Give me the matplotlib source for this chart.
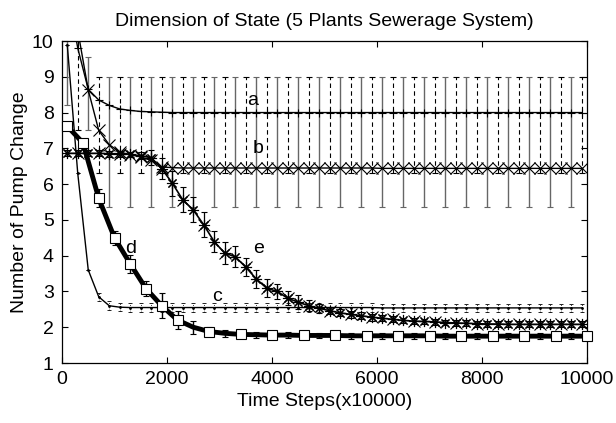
import numpy as np
import matplotlib; matplotlib.use("Agg"); import matplotlib.pyplot as plt

plt.rcParams["font.family"] = ["Liberation Sans", "DejaVu Sans"]
plt.rcParams["font.size"] = 14

# time steps (x10000)
steps200 = np.arange(100, 10000, 200)   # a, b, c, e sampled every 200
steps300 = np.arange(100, 10001, 300)   # d sampled every 300

a_y = [11.5, 9.8, 8.65, 8.35, 8.2, 8.1, 8.06, 8.03, 8.02, 8.01,
       8.0, 8.0, 8.0, 8.0, 8.0, 8.0, 8.0, 8.0, 8.0, 8.0,
       8.0, 8.0, 8.0, 8.0, 8.0, 8.0, 8.0, 8.0, 8.0, 8.0,
       8.0, 8.0, 8.0, 8.0, 8.0, 8.0, 8.0, 8.0, 8.0, 8.0,
       8.0, 8.0, 8.0, 8.0, 8.0, 8.0, 8.0, 8.0, 8.0, 8.0]
b_y = [11.8, 10.3, 8.63, 7.5, 7.1, 6.9, 6.82, 6.76, 6.66, 6.48,
       6.46, 6.45, 6.45, 6.45, 6.45, 6.45, 6.45, 6.45, 6.45, 6.45,
       6.45, 6.45, 6.45, 6.45, 6.45, 6.45, 6.45, 6.45, 6.45, 6.45,
       6.44, 6.44, 6.44, 6.44, 6.44, 6.44, 6.44, 6.44, 6.44, 6.44,
       6.44, 6.44, 6.44, 6.44, 6.44, 6.44, 6.44, 6.44, 6.44, 6.44]
c_y = [9.9, 6.3, 3.6, 2.85, 2.6, 2.56, 2.55, 2.55, 2.55, 2.55,
       2.55, 2.55, 2.55, 2.55, 2.55, 2.55, 2.55, 2.55, 2.55, 2.55,
       2.55, 2.55, 2.55, 2.55, 2.55, 2.55, 2.55, 2.55, 2.55, 2.55,
       2.54, 2.54, 2.54, 2.54, 2.54, 2.54, 2.54, 2.54, 2.54, 2.54,
       2.54, 2.54, 2.54, 2.54, 2.54, 2.54, 2.54, 2.54, 2.54, 2.54]
c_err = [0.0, 0.0, 0.0, 0.12, 0.12, 0.12, 0.12, 0.12, 0.12, 0.12,
         0.12, 0.12, 0.12, 0.12, 0.12, 0.12, 0.12, 0.12, 0.12, 0.12,
         0.12, 0.12, 0.12, 0.12, 0.12, 0.12, 0.12, 0.12, 0.12, 0.12,
         0.12, 0.12, 0.12, 0.12, 0.12, 0.12, 0.12, 0.12, 0.12, 0.12,
         0.12, 0.12, 0.12, 0.12, 0.12, 0.12, 0.12, 0.12, 0.12, 0.12]
d_y = [7.62, 7.15, 5.6, 4.5, 3.77, 3.08, 2.6, 2.2, 2.0, 1.88,
       1.83, 1.8, 1.79, 1.78, 1.78, 1.77, 1.77, 1.77, 1.76, 1.76,
       1.76, 1.76, 1.76, 1.76, 1.75, 1.75, 1.75, 1.75, 1.75, 1.75,
       1.75, 1.75, 1.75, 1.75]
d_err = [0.05, 0.1, 0.25, 0.2, 0.25, 0.2, 0.35, 0.25, 0.18, 0.12,
         0.1, 0.08, 0.08, 0.08, 0.08, 0.08, 0.08, 0.08, 0.08, 0.08,
         0.08, 0.08, 0.08, 0.08, 0.08, 0.08, 0.08, 0.08, 0.08, 0.08,
         0.08, 0.08, 0.08, 0.08]
e_y = [6.86, 6.86, 6.86, 6.86, 6.85, 6.85, 6.83, 6.79, 6.74, 6.43,
       6.03, 5.56, 5.28, 4.86, 4.39, 4.07, 3.97, 3.68, 3.35, 3.09,
       3.0, 2.81, 2.70, 2.60, 2.53, 2.46, 2.40, 2.36, 2.32, 2.28,
       2.25, 2.22, 2.19, 2.17, 2.16, 2.15, 2.13, 2.12, 2.11, 2.10,
       2.09, 2.09, 2.08, 2.08, 2.08, 2.08, 2.08, 2.08, 2.08, 2.08]
e_err = [0.08, 0.08, 0.08, 0.08, 0.08, 0.08, 0.08, 0.1, 0.2, 0.3,
         0.35, 0.35, 0.35, 0.35, 0.3, 0.3, 0.3, 0.25, 0.25, 0.25,
         0.22, 0.2, 0.2, 0.15, 0.12, 0.1, 0.1, 0.1, 0.1, 0.1,
         0.08, 0.08, 0.08, 0.08, 0.08, 0.08, 0.08, 0.08, 0.08, 0.08,
         0.08, 0.08, 0.08, 0.08, 0.08, 0.08, 0.08, 0.08, 0.08, 0.08]
# wide error bars: solid grey at 100+400k, dashed black at 300+400k
solid_lo = [8.2, 7.5] + [5.35] * 23
solid_hi = [10.5, 9.55] + [9.0] * 23
dash_lo = [7.5] + [6.3] * 24
dash_hi = [10.0] + [9.0] * 24

labels = ["a", "b", "c", "d", "e"]
label_x = [3640, 3740, 2946, 1314, 3740]
label_y = [8.35, 7.0, 2.86, 4.21, 4.21]

ASTER = (8, 2, 0)  # matlab-style '*'

fig = plt.figure(figsize=(6.16, 4.23), dpi=100)
ax = fig.add_axes([62/616, 1-363/423, 525/616, 322/423])

sx, dx = steps200[::2], steps200[1::2]
slo, shi = np.array(solid_lo), np.array(solid_hi)
ax.errorbar(sx, (slo+shi)/2, yerr=(shi-slo)/2, fmt="none", ecolor="#666666",
            elinewidth=1.0, capsize=2.5, capthick=0.8)
dlo, dhi = np.array(dash_lo), np.array(dash_hi)
eb = ax.errorbar(dx, (dlo+dhi)/2, yerr=(dhi-dlo)/2, fmt="none", ecolor="black",
                 elinewidth=0.8, capsize=2.5, capthick=0.8)
eb[2][0].set_linestyle((0, (4, 3)))

ax.plot(steps200, a_y, "-", color="black", lw=1.0, marker="+", ms=6, mew=0.8)
ax.plot(steps200, b_y, "-", color="black", lw=1.0, marker="x", ms=8, mew=0.8)

ceb = ax.errorbar(steps200, c_y, yerr=c_err, fmt="none", ecolor="black",
                  elinewidth=0.6, capsize=1.5, capthick=0.6)
ceb[2][0].set_linestyle(":")
ax.plot(steps200, c_y, "-", color="black", lw=1.0, marker=".", ms=2)

ax.errorbar(steps200, e_y, yerr=e_err, fmt="none", ecolor="black",
            elinewidth=0.9, capsize=2.5, capthick=0.8)
ax.plot(steps200, e_y, "-", color="black", lw=1.2, marker=ASTER, ms=8, mew=0.8)
ax.plot(steps200[1::2], e_y[1::2], "x", color="black", ms=8, mew=0.8)

ax.errorbar(steps300, d_y, yerr=d_err, fmt="none", ecolor="black",
            elinewidth=1.0, capsize=2.5, capthick=0.8)
d_marks = list(range(8)) + list(range(9, len(steps300), 2))
ax.plot(steps300, d_y, "-", color="black", lw=3.5, marker="s", ms=7.5, mfc="white",
        mec="black", mew=0.8, markevery=d_marks, clip_on=False, zorder=4)

for t, x, y in zip(labels, label_x, label_y):
    ax.text(x, y, t, ha="center", va="center", fontsize=14)

ax.set_xlim(0, 10000); ax.set_ylim(1, 10)
ax.set_xticks(range(0, 10001, 2000)); ax.set_yticks(range(1, 11))
ax.tick_params(direction="in", length=4, width=0.8, top=True, right=True, pad=6)
for s in ax.spines.values():
    s.set_linewidth(0.9)
ax.set_title("Dimension of State (5 Plants Sewerage System)", fontsize=14, pad=11)
ax.set_xlabel("Time Steps(x10000)", labelpad=3)
ax.set_ylabel("Number of Pump Change", labelpad=3)
fig.savefig("out.png", dpi=100)
